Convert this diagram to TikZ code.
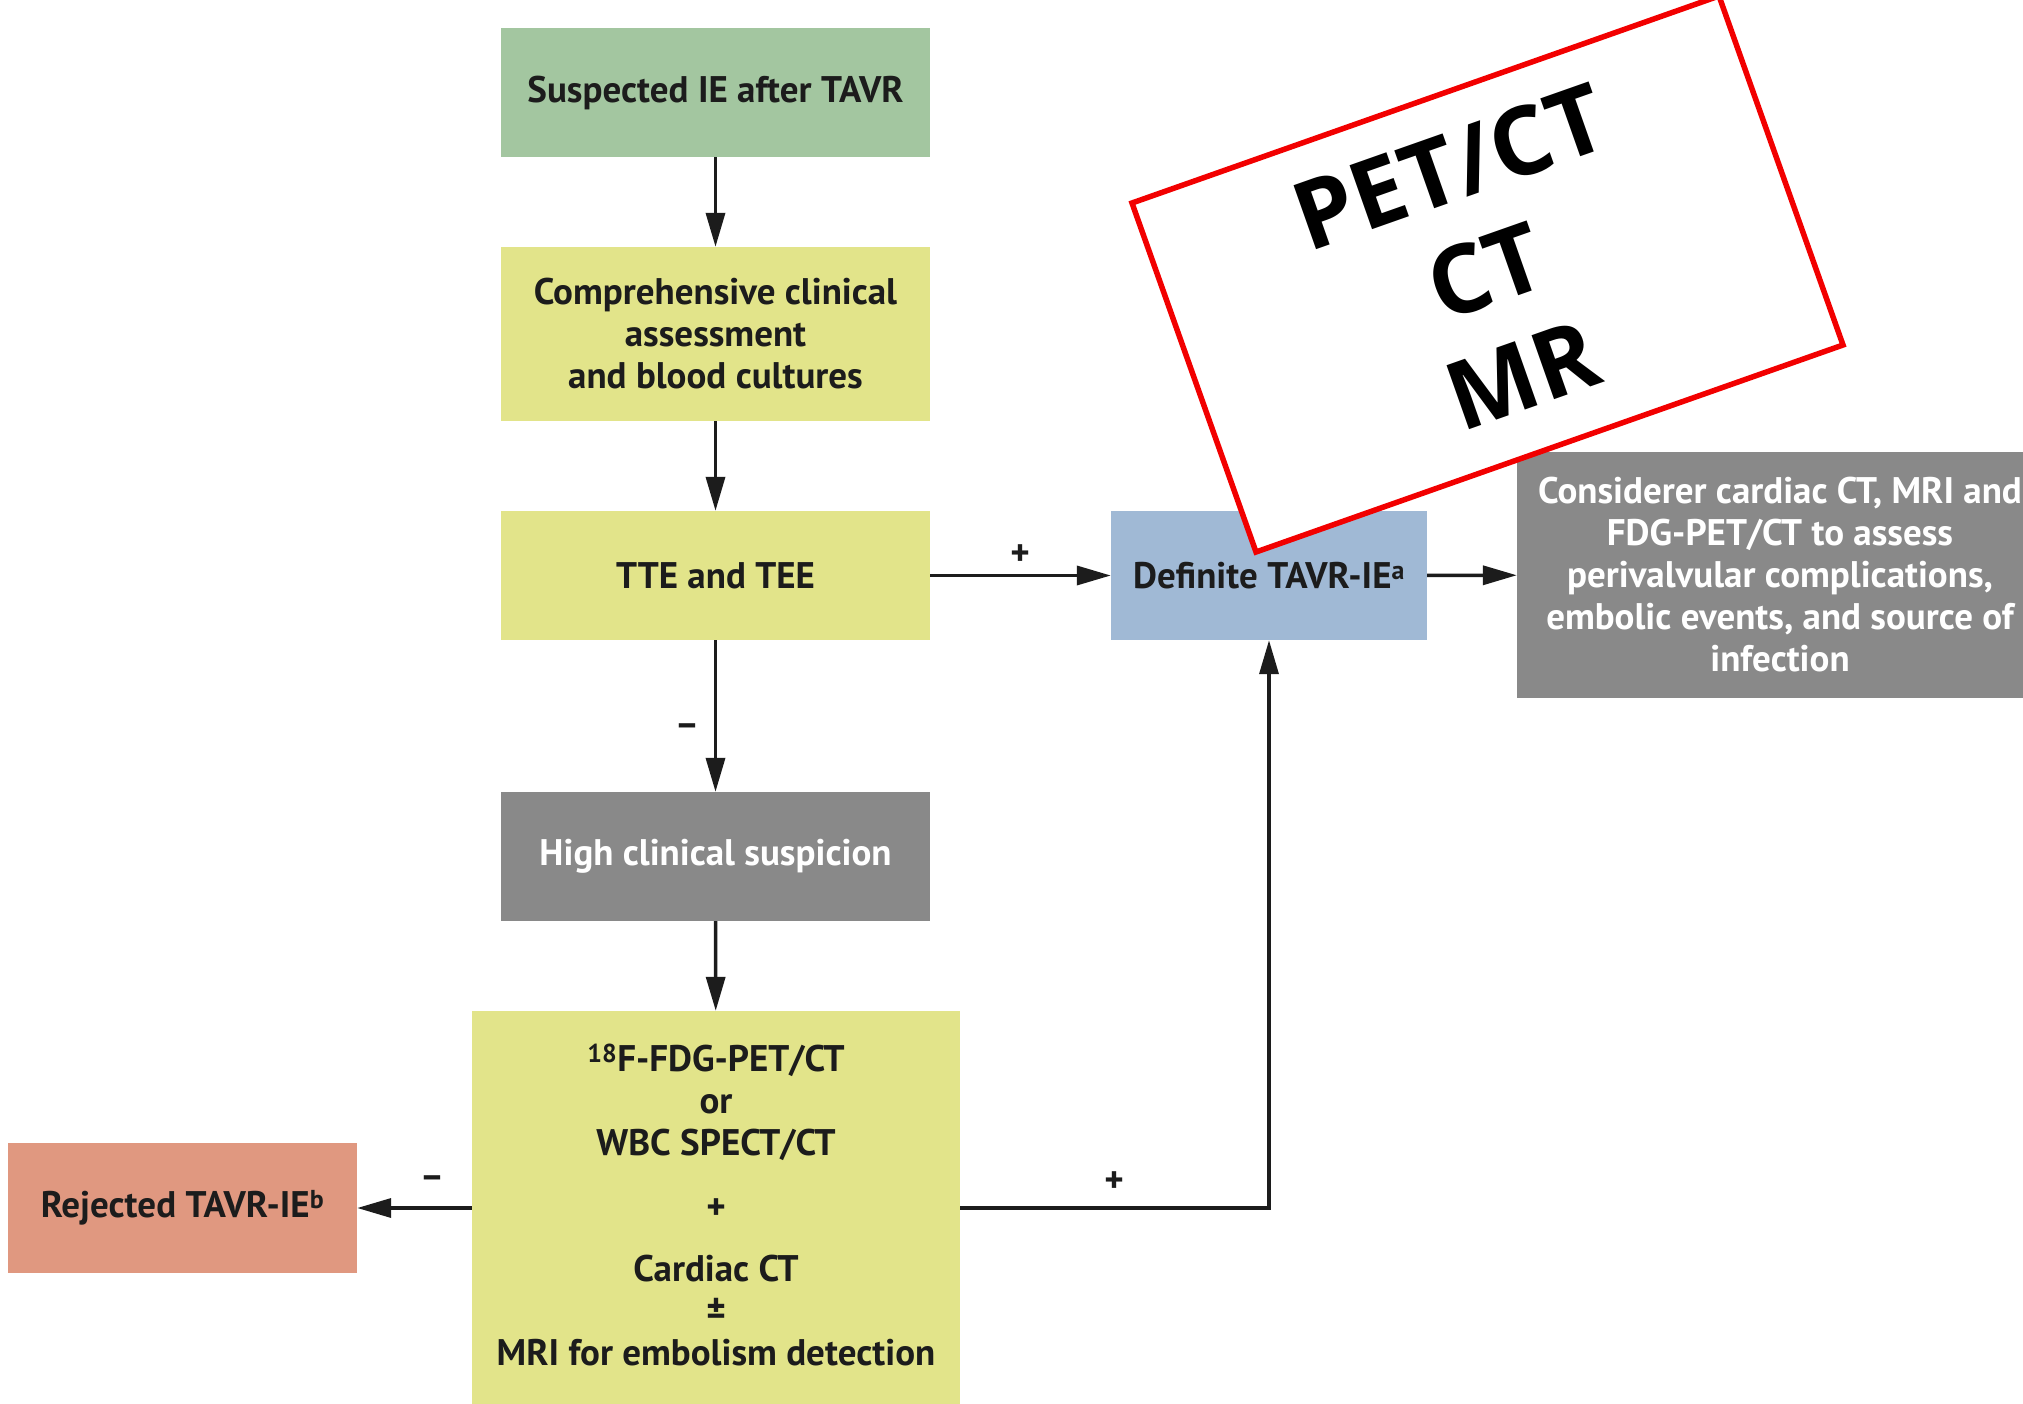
\documentclass[tikz,border=0pt]{standalone}
\usepackage{fontspec}
\setmainfont{PT Sans}
\newfontfamily\redfont{Open Sans}
\usetikzlibrary{arrows.meta}
\definecolor{cgreen}{HTML}{A3C6A0}
\definecolor{cyellow}{HTML}{E2E48A}
\definecolor{cgray}{HTML}{898989}
\definecolor{cblue}{HTML}{A0B9D5}
\definecolor{csalmon}{HTML}{E09880}
\definecolor{ctxt}{HTML}{1C1C1C}
\definecolor{cred}{HTML}{F20000}
\tikzset{
  box/.style={draw=none, inner sep=0pt, align=center, text=ctxt,
    font=\bfseries\fontsize{37}{42}\selectfont},
  conn/.style={line width=3.5pt, draw=ctxt, -{Triangle[length=34pt,width=19pt]}},
  lab/.style={inner sep=0pt, text=ctxt, font=\bfseries\fontsize{37}{42}\selectfont},
  redtxt/.style={rotate=19.4, inner sep=0pt, font=\redfont\bfseries\fontsize{95}{110}\selectfont},
}
\begin{document}
\begin{tikzpicture}[x=1pt,y=-1pt]
\useasboundingbox (0,0) rectangle (2023,1404);
\fill[white] (0,0) rectangle (2023,1404);

\node[box, fill=cgreen, minimum width=429, minimum height=129] (b1) at (715.5,92.5) {Suspected IE after TAVR};
\node[box, fill=cyellow, minimum width=429, minimum height=174] (b2) at (715.5,334) {Comprehensive clinical\\assessment\\and blood cultures};
\node[box, fill=cyellow, minimum width=429, minimum height=129] (b3) at (715.5,575.5) {TTE and TEE};
\node[box, fill=cgray, text=white, minimum width=429, minimum height=129] (b4) at (715.5,856.5) {High clinical suspicion};
\node[box, fill=cyellow, minimum width=488, minimum height=400] (b5) at (716,1211) {};
\node[box, anchor=center] (b5t) at (716,1205) {\textsuperscript{18}F-FDG-PET/CT\\or\\WBC SPECT/CT\\[22pt]+\\[20pt]Cardiac CT\\±\\MRI for embolism detection};
\node[box, fill=csalmon, minimum width=349, minimum height=130] (rej) at (182.5,1208) {Rejected TAVR-IE\textsuperscript{b}};
\node[box, fill=cblue, minimum width=316, minimum height=129] (def) at (1269,575.5) {Definite TAVR-IE\textsuperscript{a}};
\node[box, fill=cgray, text=white, minimum width=526, minimum height=246] (cons) at (1780,575) {Considerer cardiac CT, MRI and\\FDG-PET/CT to assess\\perivalvular complications,\\embolic events, and source of\\infection};

\coordinate (corner) at (1269,1208);

\draw[conn] (b1) -- (b2);
\draw[conn] (b2) -- (b3);
\draw[conn] (b3) -- (b4);
\draw[conn] (b4) -- (b5);
\draw[conn] (b3) -- (def);
\draw[conn] (def) -- (cons);
\draw[conn] (b5.west |- rej) -- (rej);
\draw[conn] (b5.east |- corner) -- (corner) -- (def.south);

\node[lab] (m1) at (687,730) {–};
\node[lab] (p1) at (1020,555) {+};
\node[lab] (m2) at (432,1182) {–};
\node[lab] (p2) at (1114,1182) {+};

% red overlay
\coordinate (rL) at (1132,203);
\coordinate (rB) at (1256,552);
\coordinate (rR) at (1843,345);
\coordinate (rT) at (1719,-4);
\fill[white] (rL) -- (rB) -- (rR) -- (rT) -- cycle;
\draw[cred, line width=5.5pt, line join=miter] (rL) -- (rB) -- (rR) -- (rT) -- cycle;
\node[redtxt] (ovl1) at (1449.5,167.2) {PET/CT};
\node[redtxt] (ovl2) at (1486,271) {CT};
\node[redtxt] (ovl3) at (1522.5,374.8) {MR};
\end{tikzpicture}
\end{document}
